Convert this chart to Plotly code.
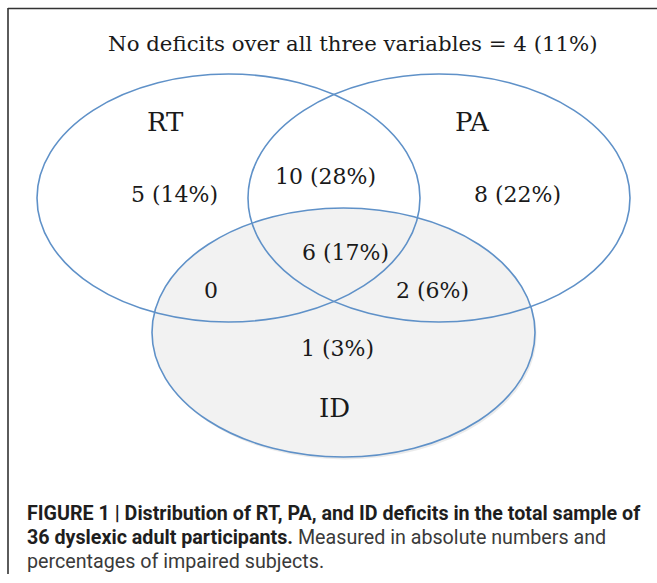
import plotly.graph_objects as go

# ---- data ----
set_names = ["RT", "PA", "ID"]
region_names = ["RT only", "RT∩PA", "PA only", "RT∩PA∩ID", "RT∩ID", "PA∩ID", "ID only"]
region_counts = [5, 10, 8, 6, 0, 2, 1]
region_pcts = [14, 28, 22, 17, None, 6, 3]
none_count = 4
none_pct = 11
caption_lines = [
    ("FIGURE 1 | Distribution of RT, PA, and ID deficits in the total sample of", ""),
    ("36 dyslexic adult participants.", " Measured in absolute numbers and"),
    ("", "percentages of impaired subjects."),
]

# ---- layout geometry (pixels) ----
W, H = 657, 583
ellipses = {  # cx, cy, rx, ry
    "RT": (228.5, 198, 191.5, 124),
    "PA": (439, 198, 191, 124),
    "ID": (343.5, 332.5, 191.5, 124.5),
}
set_label_pos = {"RT": (165, 122), "PA": (472, 122), "ID": (334, 408)}
region_pos = [(174, 194), (325, 176), (517, 194), (345, 252), (211, 290), (432, 290), (337, 348)]
caption_y = [513, 537, 561]

LINE = "#5f91c8"
SERIF = "DejaVu Serif, Liberation Serif, serif"
SANS = "Roboto, Liberation Sans, sans-serif"

fig = go.Figure()
fig.add_trace(go.Scatter(x=[0, W], y=[0, H], mode="markers",
                         marker=dict(opacity=0), hoverinfo="skip", showlegend=False))

shapes = []
cx, cy, rx, ry = ellipses["ID"]
shapes.append(dict(type="circle", xref="x", yref="y", x0=cx - rx + 1.5, x1=cx + rx + 1.5,
                   y0=cy - ry + 2.5, y1=cy + ry + 2.5, fillcolor="rgba(0,0,0,0.08)",
                   line=dict(width=0), layer="below"))
shapes.append(dict(type="circle", xref="x", yref="y", x0=cx - rx, x1=cx + rx,
                   y0=cy - ry, y1=cy + ry, fillcolor="#f2f2f2",
                   line=dict(width=0), layer="below"))
for name in set_names:
    cx, cy, rx, ry = ellipses[name]
    shapes.append(dict(type="circle", xref="x", yref="y", x0=cx - rx, x1=cx + rx,
                       y0=cy - ry, y1=cy + ry, line=dict(color=LINE, width=1.6)))
shapes.append(dict(type="line", xref="x", yref="y", x0=8, x1=8, y0=8, y1=574,
                   line=dict(color="#333333", width=1.6)))
shapes.append(dict(type="line", xref="x", yref="y", x0=8, x1=W, y0=8.5, y1=8.5,
                   line=dict(color="#333333", width=1.6)))

annotations = []
annotations.append(dict(x=353, y=43, xref="x", yref="y", showarrow=False,
                        text=f"No deficits over all three variables = {none_count} ({none_pct}%)",
                        font=dict(family=SERIF, size=21.3, color="#1a1a1a")))
for name in set_names:
    x, y = set_label_pos[name]
    annotations.append(dict(x=x, y=y, xref="x", yref="y", showarrow=False, text=name,
                            font=dict(family=SERIF, size=26, color="#1a1a1a")))
for (x, y), c, p in zip(region_pos, region_counts, region_pcts):
    t = f"{c} ({p}%)" if p is not None else f"{c}"
    annotations.append(dict(x=x, y=y, xref="x", yref="y", showarrow=False, text=t,
                            font=dict(family=SERIF, size=22, color="#1a1a1a")))
for (b, r), y in zip(caption_lines, caption_y):
    txt = (f"<b>{b}</b>" if b else "") + (f"<span style='color:#3a3a3a'>{r}</span>" if r else "")
    annotations.append(dict(x=25, y=y, xref="x", yref="y", xanchor="left", yanchor="middle",
                            align="left", showarrow=False, text=txt,
                            font=dict(family=SANS, size=19.7, color="#1e1e1e")))

fig.update_layout(width=W, height=H, margin=dict(l=0, r=0, t=0, b=0),
                  paper_bgcolor="white", plot_bgcolor="white",
                  shapes=shapes, annotations=annotations,
                  xaxis=dict(range=[0, W], visible=False, fixedrange=True),
                  yaxis=dict(range=[H, 0], visible=False, fixedrange=True))
fig.write_html("out.html", config={"displayModeBar": False},
               post_script="document.body.style.margin='0';")
